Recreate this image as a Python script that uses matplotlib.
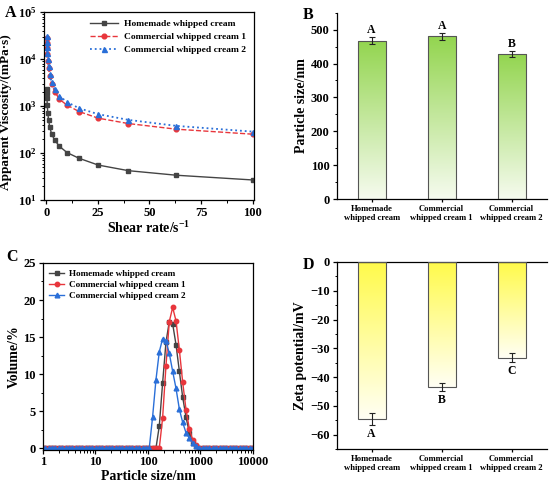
import numpy as np
import matplotlib
matplotlib.use('Agg')
import matplotlib.pyplot as plt
from matplotlib.colors import LinearSegmentedColormap
from matplotlib.ticker import LogLocator, MultipleLocator, NullFormatter, FixedLocator, FixedFormatter

plt.rcParams['font.family'] = ['Liberation Serif', 'DejaVu Serif']
plt.rcParams['font.weight'] = 'bold'
plt.rcParams['axes.labelweight'] = 'bold'
plt.rcParams['mathtext.fontset'] = 'custom'
plt.rcParams['mathtext.rm'] = 'Liberation Serif:bold'
plt.rcParams['mathtext.bf'] = 'Liberation Serif:bold'
plt.rcParams['mathtext.it'] = 'Liberation Serif:italic:bold'
plt.rcParams['axes.linewidth'] = 0.9
plt.rcParams['xtick.major.width'] = 0.9
plt.rcParams['ytick.major.width'] = 0.9
plt.rcParams['xtick.minor.width'] = 0.7
plt.rcParams['ytick.minor.width'] = 0.7
plt.rcParams['xtick.major.size'] = 3
plt.rcParams['ytick.major.size'] = 3
plt.rcParams['xtick.minor.size'] = 1.8
plt.rcParams['ytick.minor.size'] = 1.8

# ---- data ----
series_names = ['Homemade whipped cream', 'Commercial whipped cream 1', 'Commercial whipped cream 2']

# panel A: viscosity vs shear rate
shear_rate = [0.1, 0.158, 0.251, 0.398, 0.631, 1.0, 1.58, 2.51, 3.98, 6.31, 10.0, 15.8, 25.1, 39.8, 63.1, 100.0]
visc_home = [2300, 1950, 1500, 1050, 730, 520, 360, 255, 190, 140, 103, 78, 56, 42.5, 34, 27]
visc_c1 = [28800, 22500, 17600, 12800, 9200, 6600, 4400, 2900, 2050, 1400, 1050, 770, 556, 427, 324, 254]
visc_c2 = [31300, 23700, 18500, 13400, 10000, 7200, 4800, 3200, 2300, 1650, 1220, 906, 676, 511, 381, 288]

# panel C: particle size distribution (instrument bins, nm)
size_bins = [0.9649, 1.117, 1.294, 1.499, 1.736, 2.010, 2.328, 2.696, 3.122, 3.615, 4.187, 4.849,
             5.615, 6.503, 7.531, 8.721, 10.10, 11.70, 13.54, 15.69, 18.17, 21.04, 24.36, 28.21,
             32.67, 37.84, 43.82, 50.75, 58.77, 68.06, 78.82, 91.28, 105.7, 122.4, 141.8, 164.2,
             190.1, 220.2, 255.0, 295.3, 342.0, 396.1, 458.7, 531.2, 615.1, 712.4, 825.0, 955.4,
             1106, 1281, 1484, 1718, 1990, 2305, 2669, 3091, 3580, 4145, 4801, 5560, 6439, 7456,
             8635, 10000]
vol_home = [0.0] * 32 + [0.0, 0.0, 0.0, 3.0, 8.8, 14.3, 17.1, 16.8, 14.0, 10.4, 6.9, 4.2,
                         2.1, 0.8, 0.3, 0.1] + [0.0] * 16
vol_c1 = [0.0] * 32 + [0.0, 0.0, 0.0, 0.0, 4.1, 11.1, 17.1, 19.0, 17.2, 13.3, 8.9, 5.2,
                       2.6, 1.2, 0.4, 0.1] + [0.0] * 16
vol_c2 = [0.0] * 32 + [0.0, 4.2, 9.2, 13.0, 14.8, 14.5, 12.8, 10.4, 8.1, 5.3, 3.5, 2.1,
                       1.4, 0.7, 0.3, 0.1] + [0.0] * 16

# panels B and D
samples = ['Homemade\nwhipped cream', 'Commercial\nwhipped cream 1', 'Commercial\nwhipped cream 2']
particle_size = [467, 480, 428]
particle_err = [10, 10, 9]
size_letters = ['A', 'A', 'B']
zeta = [-54.6, -43.6, -33.2]
zeta_err = [2.0, 1.4, 1.5]
zeta_letters = ['A', 'B', 'C']

c_home = '#444444'
c_c1 = '#e8363c'
c_c2 = '#2a6fd8'

fig = plt.figure(figsize=(5.5, 4.86), dpi=100)
axA = fig.add_axes([0.080, 0.588, 0.381, 0.387])
axB = fig.add_axes([0.612, 0.590, 0.382, 0.384])
axC = fig.add_axes([0.078, 0.075, 0.382, 0.384])
axD = fig.add_axes([0.612, 0.076, 0.382, 0.385])

tick_fs = 9
label_fs = 10

# ---- A ----
axA.plot(shear_rate, visc_home, '-', color=c_home, marker='s', ms=3.2, lw=1.0, label=series_names[0])
axA.plot(shear_rate, visc_c1, '--', color=c_c1, marker='o', ms=3.4, lw=1.0, label=series_names[1])
axA.plot(shear_rate, visc_c2, ':', color=c_c2, marker='^', ms=3.6, lw=1.3, label=series_names[2])
axA.set_yscale('log')
axA.set_ylim(10, 1e5)
axA.set_xlim(-1.2, 100.5)
axA.xaxis.set_major_locator(MultipleLocator(25))
axA.xaxis.set_minor_locator(MultipleLocator(12.5))
axA.yaxis.set_major_locator(LogLocator(base=10, numticks=10))
axA.yaxis.set_minor_locator(LogLocator(base=10, subs=np.arange(2, 10), numticks=20))
axA.yaxis.set_minor_formatter(NullFormatter())
axA.tick_params(labelsize=tick_fs, direction='out', which='both', top=False, right=False, pad=2)
axA.set_xlabel('Shear rate/s$^{-1}$', fontsize=label_fs, labelpad=1)
axA.set_ylabel('Apparent Viscosity/(mPa·s)', fontsize=9.5, labelpad=0)
axA.yaxis.set_label_coords(-0.155, 0.47)
axA.legend(loc='upper right', frameon=False, fontsize=6.8, handlelength=3.0,
           borderaxespad=0.4, labelspacing=0.45, handletextpad=0.6)

# gradient bar helper
def gradient_bars(ax, values, top_color, bottom_color):
    cmap = LinearSegmentedColormap.from_list('g', [bottom_color, top_color])
    grad = np.linspace(0, 1, 256).reshape(-1, 1)
    bars = ax.bar(range(len(values)), values, width=0.4, facecolor='none',
                  edgecolor='#555555', linewidth=0.8, zorder=3)
    for b in bars:
        x0 = b.get_x()
        y0 = b.get_y()
        h = b.get_height()
        im = ax.imshow(grad, cmap=cmap, origin='lower', aspect='auto',
                       extent=(x0, x0 + b.get_width(), min(y0, y0 + h), max(y0, y0 + h)),
                       zorder=2)
        im.set_clip_path(b)
    return bars

# ---- B ----
gradient_bars(axB, particle_size, '#93d54f', '#f6fbef')
axB.errorbar(range(3), particle_size, yerr=particle_err, fmt='none', ecolor='#222222',
             elinewidth=0.8, capsize=2, capthick=0.8, zorder=4)
for i, (v, e, t) in enumerate(zip(particle_size, particle_err, size_letters)):
    axB.text(i, v + e + 3, t, ha='center', va='bottom', fontsize=8.5, fontweight='bold')
axB.set_xlim(-0.5, 2.5)
axB.set_ylim(0, 550)
axB.yaxis.set_major_locator(MultipleLocator(100))
axB.yaxis.set_minor_locator(MultipleLocator(50))
axB.set_xticks(range(3))
axB.set_xticklabels(samples, fontsize=6.2)
axB.spines['top'].set_visible(False)
axB.spines['right'].set_visible(False)
axB.tick_params(axis='y', labelsize=tick_fs, direction='out', which='both', pad=2)
axB.tick_params(axis='x', direction='out', length=2, pad=2)
axB.set_ylabel('Particle size/nm', fontsize=label_fs, labelpad=2)

# ---- C ----
axC.plot(size_bins, vol_home, '-', color=c_home, marker='s', ms=3.0, lw=1.0, label=series_names[0])
axC.plot(size_bins, vol_c1, '-', color=c_c1, marker='o', ms=3.2, lw=1.0, label=series_names[1])
axC.plot(size_bins, vol_c2, '-', color=c_c2, marker='^', ms=3.4, lw=1.0, label=series_names[2])
axC.set_xscale('log')
axC.set_xlim(1, 10000)
axC.set_ylim(-0.15, 25)
axC.xaxis.set_major_locator(FixedLocator([1, 10, 100, 1000, 10000]))
axC.xaxis.set_major_formatter(FixedFormatter(['1', '10', '100', '1000', '10000']))
axC.xaxis.set_minor_locator(LogLocator(base=10, subs=np.arange(2, 10), numticks=20))
axC.xaxis.set_minor_formatter(NullFormatter())
axC.yaxis.set_major_locator(MultipleLocator(5))
axC.yaxis.set_minor_locator(MultipleLocator(2.5))
axC.tick_params(labelsize=tick_fs, direction='out', which='both', top=False, right=False, pad=2)
axC.set_xlabel('Particle size/nm', fontsize=label_fs, labelpad=1)
axC.set_ylabel('Volume/%', fontsize=label_fs, labelpad=2)
axC.legend(loc='upper left', frameon=False, fontsize=6.6, handlelength=1.6,
           borderaxespad=0.3, labelspacing=0.3, handletextpad=0.6)

# ---- D ----
gradient_bars(axD, zeta, '#fffa4a', '#fffff4')
axD.errorbar(range(3), zeta, yerr=zeta_err, fmt='none', ecolor='#222222',
             elinewidth=0.8, capsize=2, capthick=0.8, zorder=4)
for i, (v, e, t) in enumerate(zip(zeta, zeta_err, zeta_letters)):
    axD.text(i, v - e - 1.0, t, ha='center', va='top', fontsize=8.5, fontweight='bold')
axD.set_xlim(-0.5, 2.5)
axD.set_ylim(-65, 0)
axD.yaxis.set_major_locator(MultipleLocator(10))
axD.yaxis.set_minor_locator(MultipleLocator(5))
axD.set_xticks(range(3))
axD.set_xticklabels(samples, fontsize=6.2)
axD.spines['right'].set_visible(False)
axD.tick_params(axis='y', labelsize=tick_fs, direction='out', which='both', pad=2)
axD.tick_params(axis='x', direction='out', length=2, pad=2)
axD.set_ylabel('Zeta potential/mV', fontsize=label_fs, labelpad=2)

# panel letters
for t, x, y in [('A', 0.020, 0.973), ('B', 0.560, 0.970), ('C', 0.022, 0.472), ('D', 0.560, 0.455)]:
    fig.text(x, y, t, fontsize=11.5, fontweight='bold', ha='center', va='center')

fig.savefig('out.png', dpi=100)
